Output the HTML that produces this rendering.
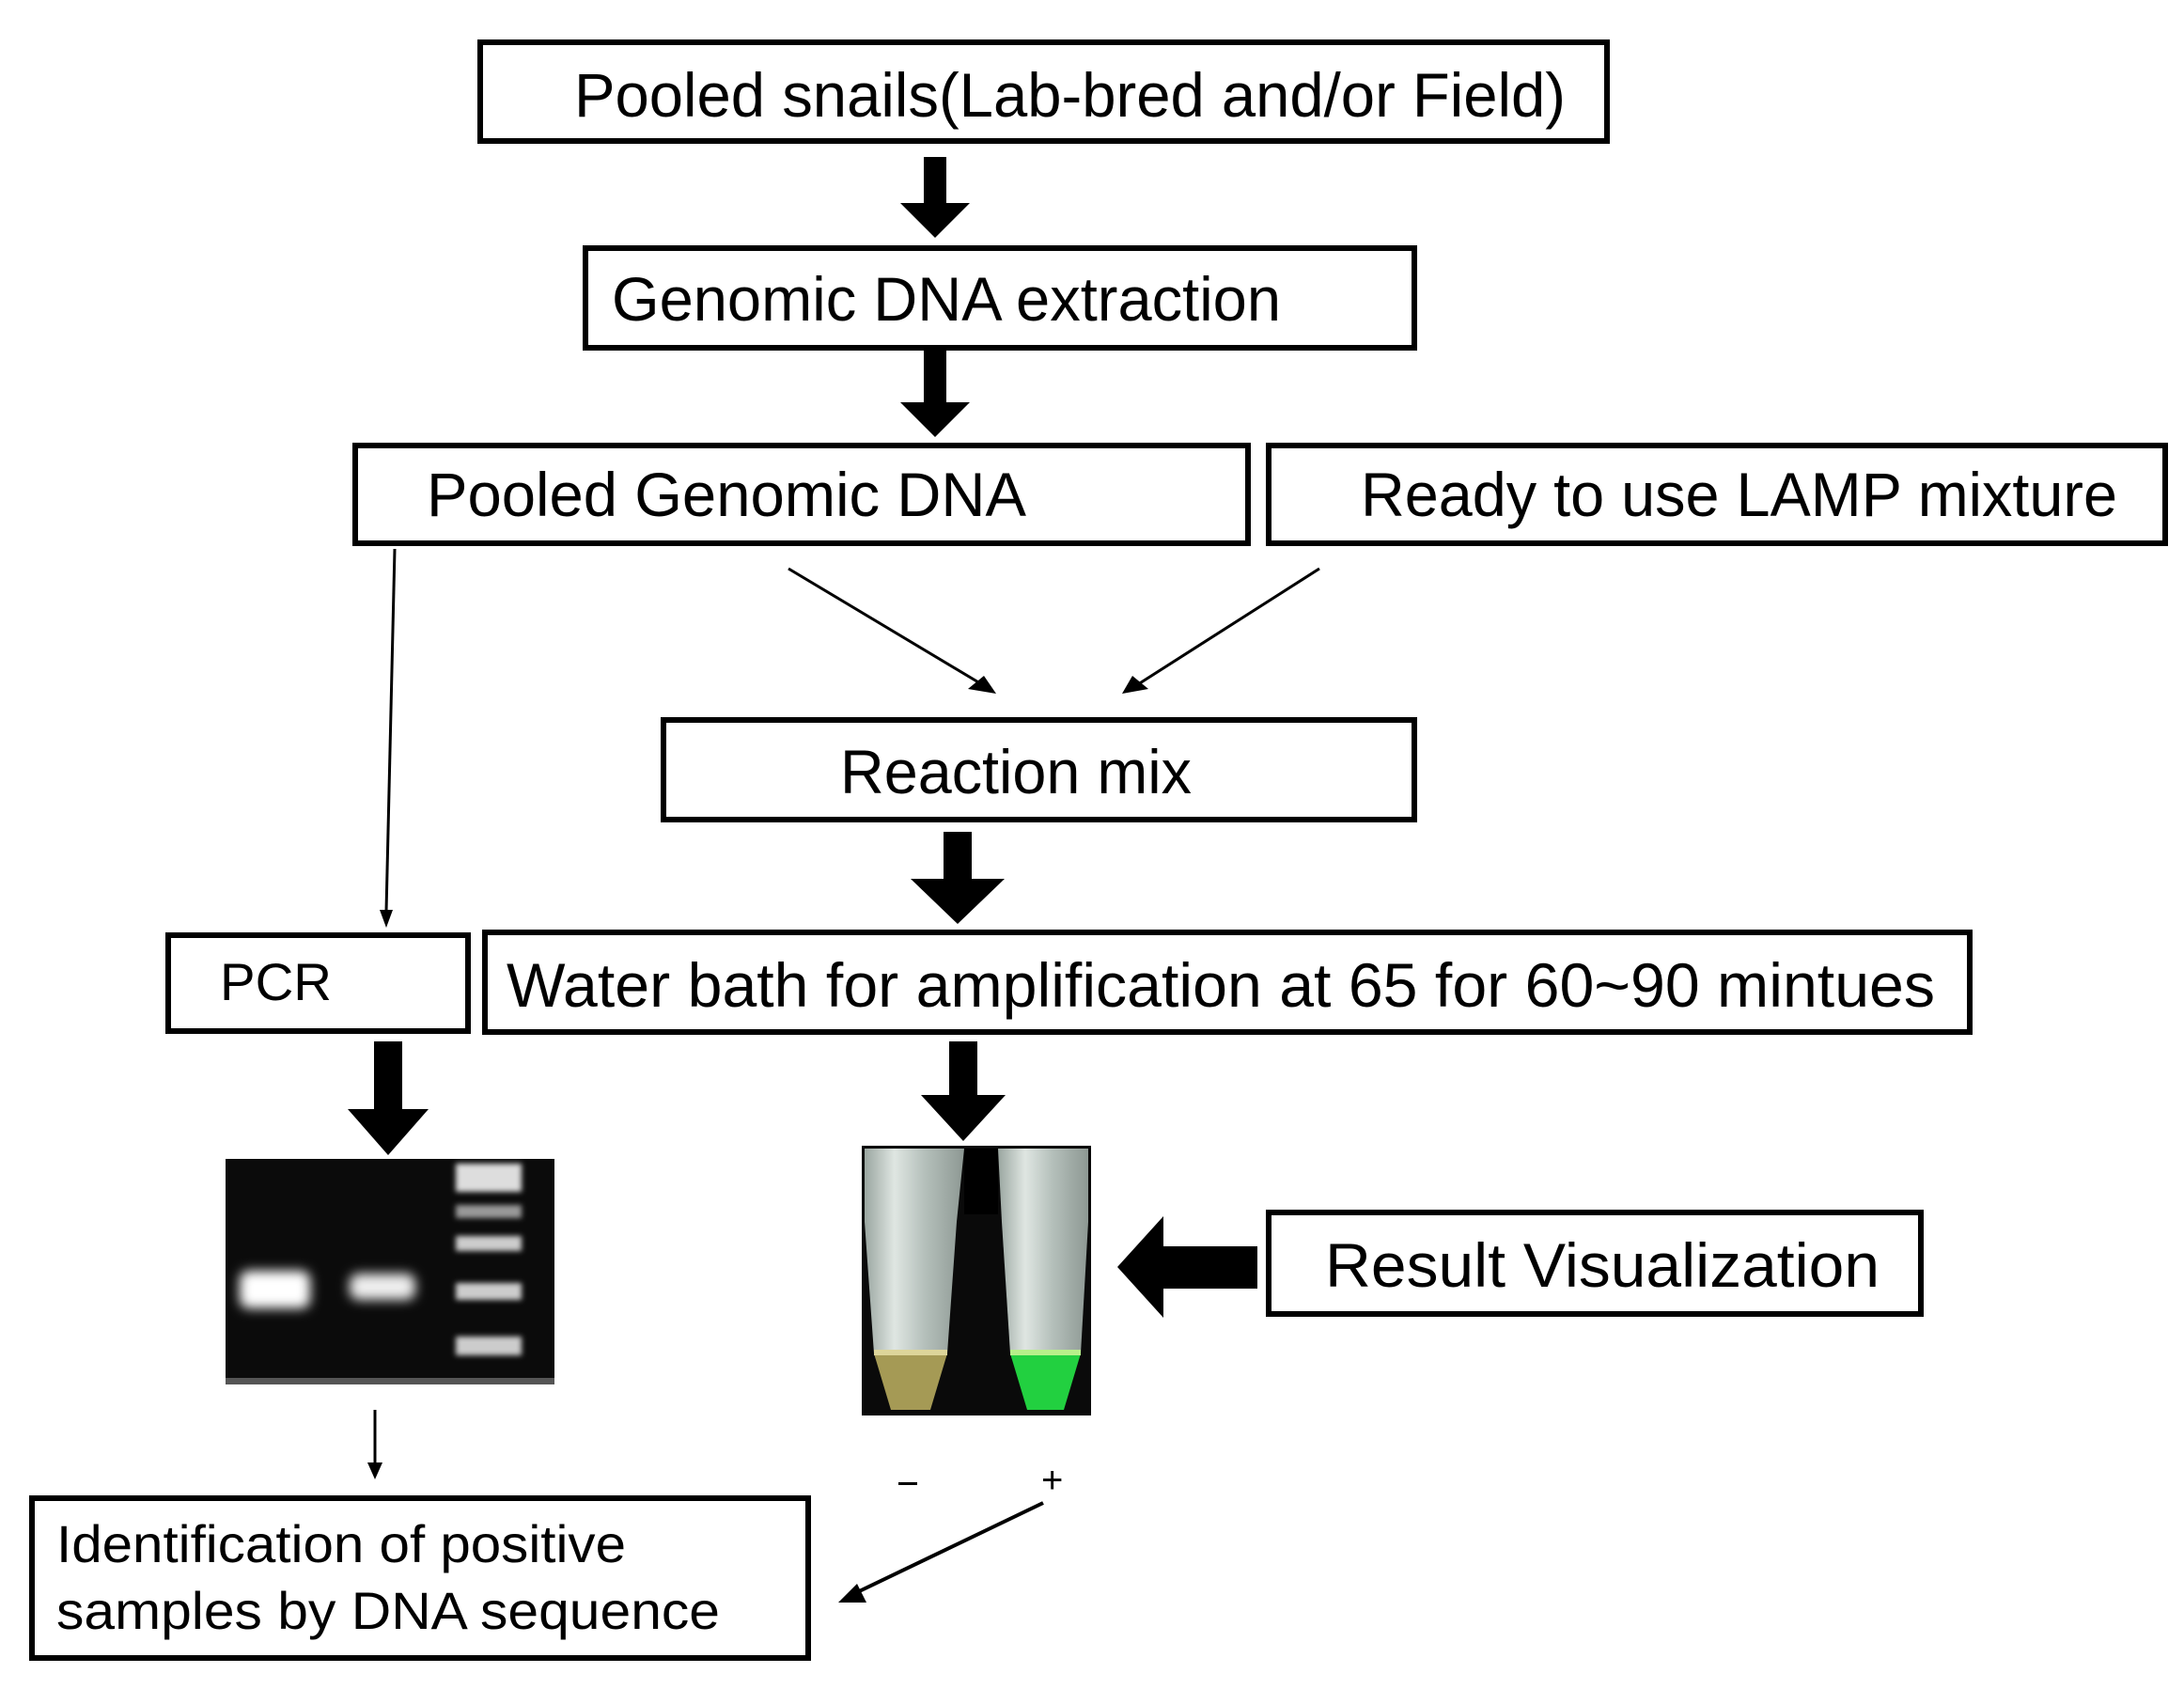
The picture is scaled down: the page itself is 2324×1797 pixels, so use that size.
<!DOCTYPE html>
<html><head><meta charset="utf-8"><style>
html,body{margin:0;padding:0;background:#fff;}
svg{display:block;}
text{font-family:"Liberation Sans",Arial,sans-serif;fill:#000;}
</style></head><body>
<svg width="2324" height="1797" viewBox="0 0 2324 1797" xmlns="http://www.w3.org/2000/svg">
<defs>
<filter id="bl" x="-50%" y="-50%" width="200%" height="200%"><feGaussianBlur stdDeviation="6"/></filter>
<filter id="bl2" x="-50%" y="-50%" width="200%" height="200%"><feGaussianBlur stdDeviation="3"/></filter>
<linearGradient id="tube" x1="0" x2="1"><stop offset="0" stop-color="#9aa6a0"/><stop offset="0.3" stop-color="#dfe6e2"/><stop offset="0.6" stop-color="#b5c0bb"/><stop offset="1" stop-color="#8d9893"/></linearGradient>
</defs>
<g fill="#fff" stroke="#000" stroke-width="6">
<rect x="511" y="45" width="1199" height="105"/>
<rect x="623" y="264" width="882" height="106"/>
<rect x="378" y="474" width="950" height="104"/>
<rect x="1350" y="474" width="954" height="104"/>
<rect x="706" y="766" width="799" height="106"/>
<rect x="179" y="995" width="319" height="102"/>
<rect x="516" y="992" width="1580" height="106"/>
<rect x="1350" y="1290" width="694" height="108"/>
<rect x="34" y="1594" width="826" height="170"/>
</g>
<g font-size="66">
<text x="611" y="124" textLength="1055" lengthAdjust="spacingAndGlyphs">Pooled snails(Lab-bred and/or Field)</text>
<text x="651" y="341" textLength="712" lengthAdjust="spacingAndGlyphs">Genomic DNA extraction</text>
<text x="454" y="549" textLength="638" lengthAdjust="spacingAndGlyphs">Pooled Genomic DNA</text>
<text x="1448" y="549" textLength="805" lengthAdjust="spacingAndGlyphs">Ready to use LAMP mixture</text>
<text x="894" y="844" textLength="374" lengthAdjust="spacingAndGlyphs">Reaction mix</text>
<text x="539" y="1071" textLength="1520" lengthAdjust="spacingAndGlyphs">Water bath for amplification at 65  for 60~90 mintues</text>
<text x="1410" y="1369" textLength="590" lengthAdjust="spacingAndGlyphs">Result  Visualization</text>
</g>
<text x="234" y="1064" font-size="56" textLength="119" lengthAdjust="spacingAndGlyphs">PCR</text>
<text x="60" y="1662" font-size="56" textLength="606" lengthAdjust="spacingAndGlyphs">Identification of positive</text>
<text x="60" y="1733" font-size="56" textLength="706" lengthAdjust="spacingAndGlyphs">samples by DNA sequence</text>
<!-- thick arrows -->
<g fill="#000">
<polygon points="983,167 1007,167 1007,216 1032,216 995,253 958,216 983,216"/>
<polygon points="983,372 1007,372 1007,428 1032,428 995,465 958,428 983,428"/>
<polygon points="1004,885 1034,885 1034,935 1069,935 1019,983 969,935 1004,935"/>
<polygon points="398,1108 428,1108 428,1180 456,1180 413,1229 370,1180 398,1180"/>
<polygon points="1010,1108 1040,1108 1040,1165 1070,1165 1025,1214 980,1165 1010,1165"/>
<polygon points="1338,1326 1338,1371 1238,1371 1238,1402 1189,1348 1238,1294 1238,1326"/>
</g>
<!-- thin arrows -->
<g stroke="#000" stroke-width="3" fill="none">
<line x1="420" y1="584" x2="411" y2="970"/>
<line x1="839" y1="605" x2="1048" y2="730"/>
<line x1="1404" y1="605" x2="1208" y2="730"/>
<line x1="399" y1="1500" x2="399" y2="1560"/>
<line x1="1110" y1="1599" x2="906" y2="1697" stroke-width="4"/>
</g>
<g fill="#000">
<polygon points="404,968 418,968 411,987"/>
<polygon points="1030,733 1047,719 1060,738"/>
<polygon points="1222,733 1205,719 1194,738"/>
<polygon points="391,1556 407,1556 399,1574"/>
<polygon points="912,1685 922,1705 892,1705"/>
</g>
<!-- gel -->
<rect x="240" y="1233" width="350" height="240" fill="#0b0b0b"/>
<rect x="240" y="1466" width="350" height="7" fill="#555"/>
<g filter="url(#bl)" fill="#fff">
<rect x="255" y="1352" width="75" height="40" rx="10"/>
<rect x="372" y="1355" width="70" height="28" rx="10" fill="#eee"/>
</g>
<g filter="url(#bl2)" fill="#ccc">
<rect x="485" y="1238" width="70" height="30" fill="#ddd"/>
<rect x="485" y="1282" width="70" height="14" fill="#999"/>
<rect x="485" y="1315" width="70" height="16"/>
<rect x="485" y="1365" width="70" height="18"/>
<rect x="485" y="1422" width="70" height="20"/>
</g>
<!-- tubes -->
<rect x="917" y="1219" width="244" height="287" fill="#0a0a0a"/>
<polygon points="920,1222 1026,1222 1018,1300 1008,1440 985,1500 950,1500 930,1440 920,1300" fill="url(#tube)"/>
<polygon points="1062,1222 1158,1222 1158,1300 1150,1440 1130,1500 1095,1500 1075,1440 1066,1300" fill="url(#tube)"/>
<rect x="1026" y="1222" width="36" height="70" fill="#000"/>
<polygon points="930,1440 1008,1440 990,1500 948,1500" fill="#a59a55"/>
<polygon points="1075,1440 1150,1440 1132,1500 1093,1500" fill="#22d040"/>
<rect x="930" y="1436" width="78" height="6" fill="#ddd59a"/>
<rect x="1075" y="1436" width="75" height="6" fill="#b7f08a"/>
<!-- +/- -->
<rect x="956" y="1577" width="20" height="3" fill="#000"/>
<text x="1108" y="1588" font-size="40">+</text>
</svg>
</body></html>
